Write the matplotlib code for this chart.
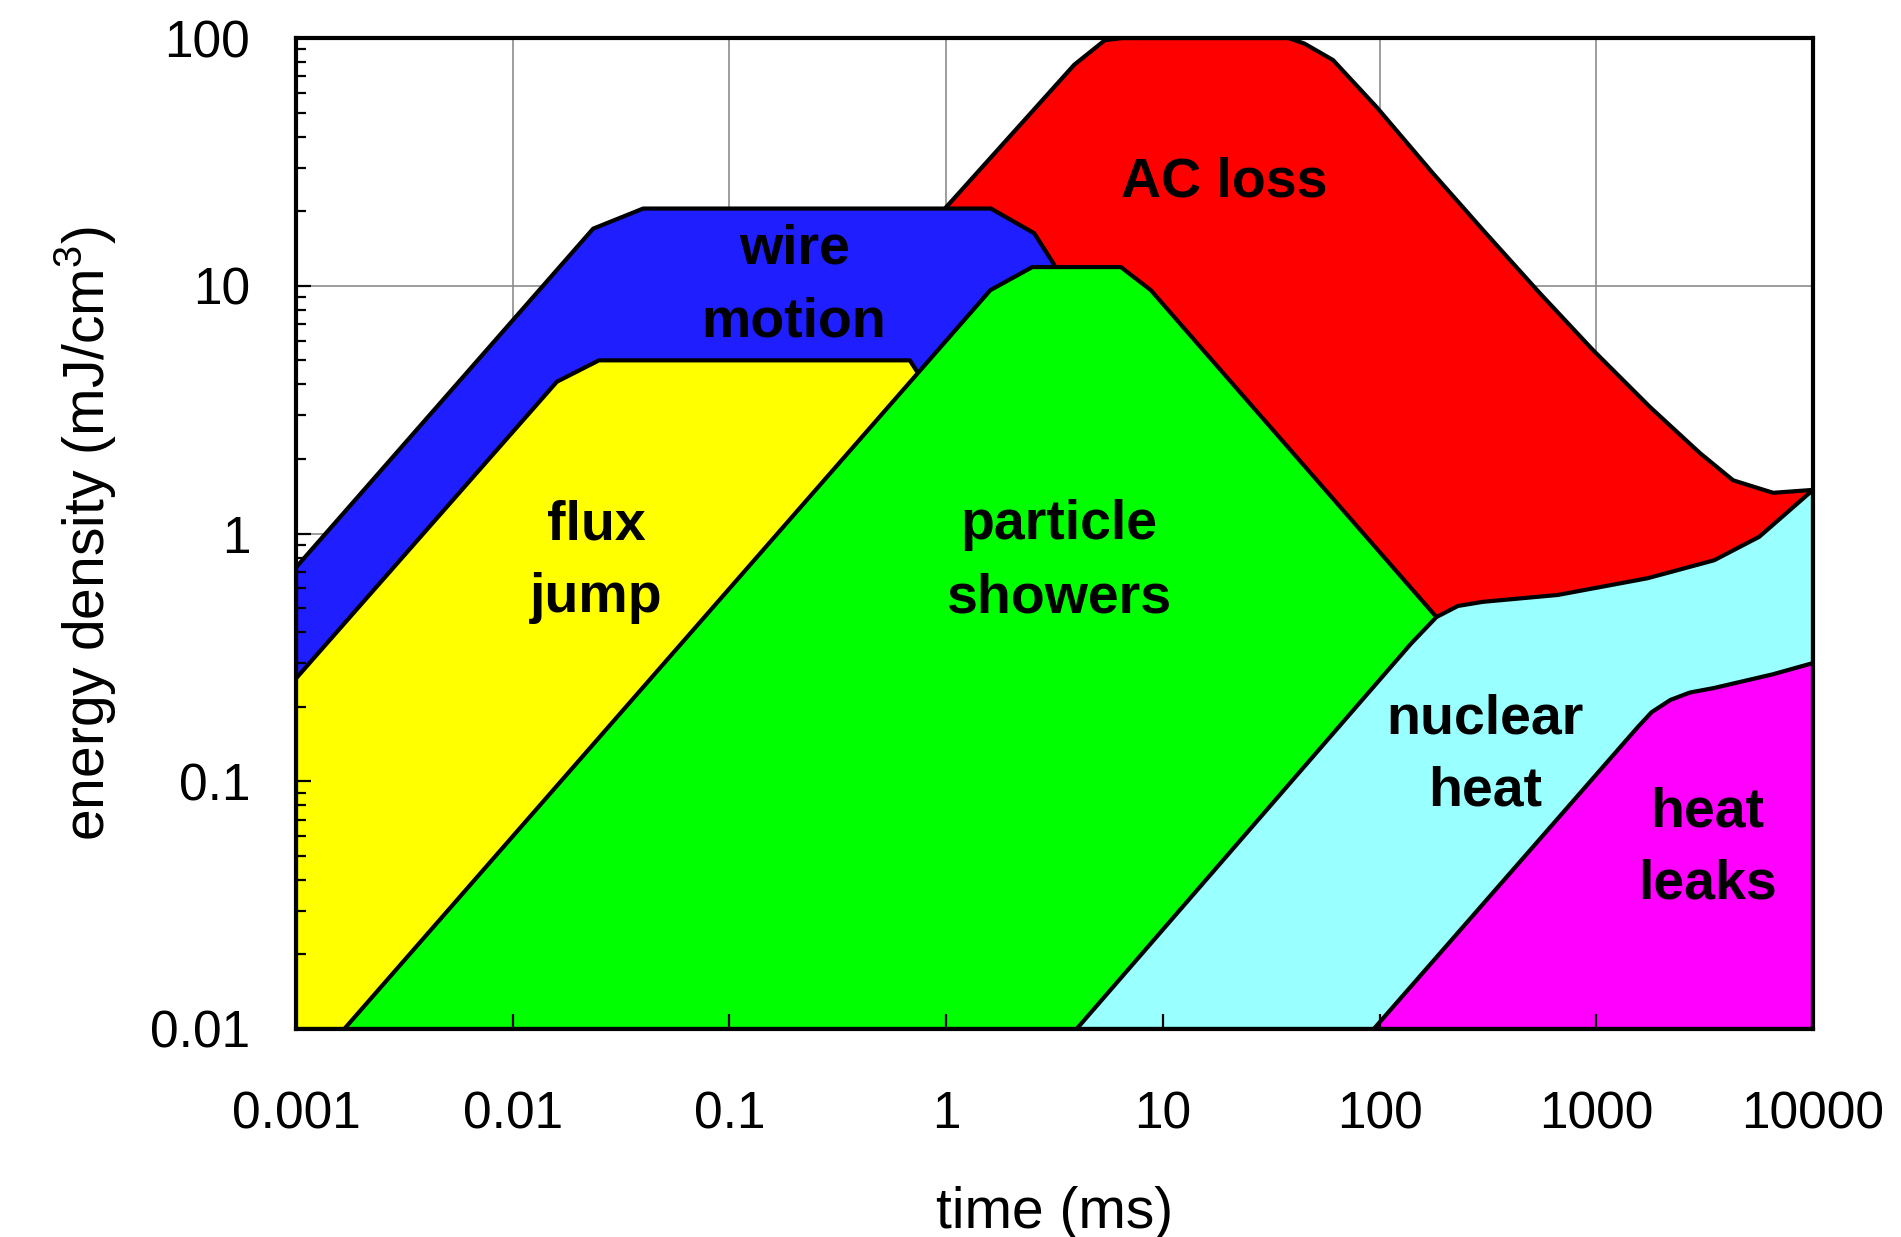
import matplotlib
matplotlib.use("Agg")
import matplotlib.pyplot as plt
from matplotlib.ticker import FixedLocator, NullLocator, NullFormatter

plt.rcParams['font.family'] = ['Liberation Sans', 'DejaVu Sans']
plt.rcParams['mathtext.fontset'] = 'custom'
plt.rcParams['mathtext.rm'] = 'Liberation Sans'

# region outlines (time in ms, energy density in mJ/cm^3)
ac_x = [0.95, 0.95, 3.9, 5.4, 6.5, 38, 45, 61, 97, 176, 300, 550, 966, 1770, 3013, 4280, 6550, 10000, 10000]
ac_y = [0.01, 19.75, 78, 98, 100, 100, 95, 81.5, 52.6, 28.5, 16.8, 9.32, 5.5, 3.24, 2.11, 1.64, 1.46, 1.5, 0.01]

wire_x = [0.001, 0.001, 0.0235, 0.04, 1.61, 2.55, 3.13, 3.5, 3.5]
wire_y = [0.01, 0.73, 17, 20.5, 20.5, 16.3, 12.3, 10, 0.01]

flux_x = [0.001, 0.001, 0.016, 0.025, 0.68, 0.76, 0.76]
flux_y = [0.01, 0.26, 4.1, 5, 5, 4.3, 0.01]

shower_x = [0.00167, 1.6, 2.5, 6.4, 8.8, 183, 250, 250]
shower_y = [0.01, 9.6, 11.9, 11.9, 9.6, 0.46, 0.336, 0.01]

nuclear_x = [4, 140, 183, 230, 300, 665, 1726, 3500, 5650, 10000, 10000]
nuclear_y = [0.01, 0.36, 0.46, 0.51, 0.53, 0.565, 0.66, 0.78, 0.97, 1.5, 0.01]

leak_x = [94, 1550, 1800, 2200, 2700, 3500, 6500, 10000, 10000]
leak_y = [0.01, 0.165, 0.19, 0.213, 0.228, 0.238, 0.27, 0.3, 0.01]

regions = [
    (ac_x, ac_y, '#ff0000'),
    (wire_x, wire_y, '#1e1eff'),
    (flux_x, flux_y, '#ffff00'),
    (shower_x, shower_y, '#00ff00'),
    (nuclear_x, nuclear_y, '#99ffff'),
    (leak_x, leak_y, '#ff00ff'),
]

# label text and where it sits
labels = ['AC loss', 'wire\nmotion', 'flux\njump', 'particle\nshowers', 'nuclear\nheat', 'heat\nleaks']
label_x = [19.3, 0.199, 0.0244, 3.3, 307, 3245]
label_y = [26.2, 10.0, 0.77, 0.77, 0.127, 0.0535]

x_ticks = [0.001, 0.01, 0.1, 1, 10, 100, 1000, 10000]
x_ticklabels = ['0.001', '0.01', '0.1', '1', '10', '100', '1000', '10000']
y_ticks = [0.01, 0.1, 1, 10, 100]
y_ticklabels = ['0.01', '0.1', '1', '10', '100']

fig = plt.figure(figsize=(19.01, 12.37), dpi=100)
ax = fig.add_axes([0.1557, 0.16815, 0.798, 0.8011])
ax.set_xscale('log')
ax.set_yscale('log')
ax.set_xlim(0.001, 10000)
ax.set_ylim(0.01, 100)

# grid drawn by hand so it stays under the filled regions
ax.vlines(x_ticks[1:-1], 0.01, 100, colors='#8c8c8c', linewidth=1.2, zorder=0.5)
ax.hlines(y_ticks[1:-1], 0.001, 10000, colors='#8c8c8c', linewidth=1.2, zorder=0.5)

for i, (xs, ys, col) in enumerate(regions):
    ax.fill(xs, ys, facecolor=col, edgecolor='black', linewidth=3,
            joinstyle='round', zorder=1 + i * 0.1)

for txt, lx, ly in zip(labels, label_x, label_y):
    ax.text(lx, ly, txt, ha='center', va='center', fontsize=40,
            fontweight='bold', linespacing=1.52, zorder=3)

ax.xaxis.set_major_locator(FixedLocator(x_ticks))
ax.set_xticklabels(x_ticklabels)
ax.xaxis.set_minor_locator(NullLocator())
ax.yaxis.set_major_locator(FixedLocator(y_ticks))
ax.set_yticklabels(y_ticklabels)
minor = [m * 10.0 ** e for e in range(-2, 2) for m in range(2, 10)]
ax.yaxis.set_minor_locator(FixedLocator(minor))
ax.yaxis.set_minor_formatter(NullFormatter())

ax.tick_params(axis='x', which='major', direction='in', length=11, width=1.6,
               pad=44, labelsize=37, top=False)
ax.tick_params(axis='y', which='major', direction='in', length=11, width=1.6,
               pad=33, labelsize=37, right=False)
ax.tick_params(axis='y', which='minor', direction='in', length=7, width=1.6,
               right=False)

for s in ax.spines.values():
    s.set_linewidth(3)
    s.set_zorder(4)

ax.set_xlabel('time (ms)', fontsize=41, labelpad=34)
ax.set_ylabel('energy density (mJ/cm$^{3}$)', fontsize=41, labelpad=22)

fig.savefig('out.png', dpi=100)
